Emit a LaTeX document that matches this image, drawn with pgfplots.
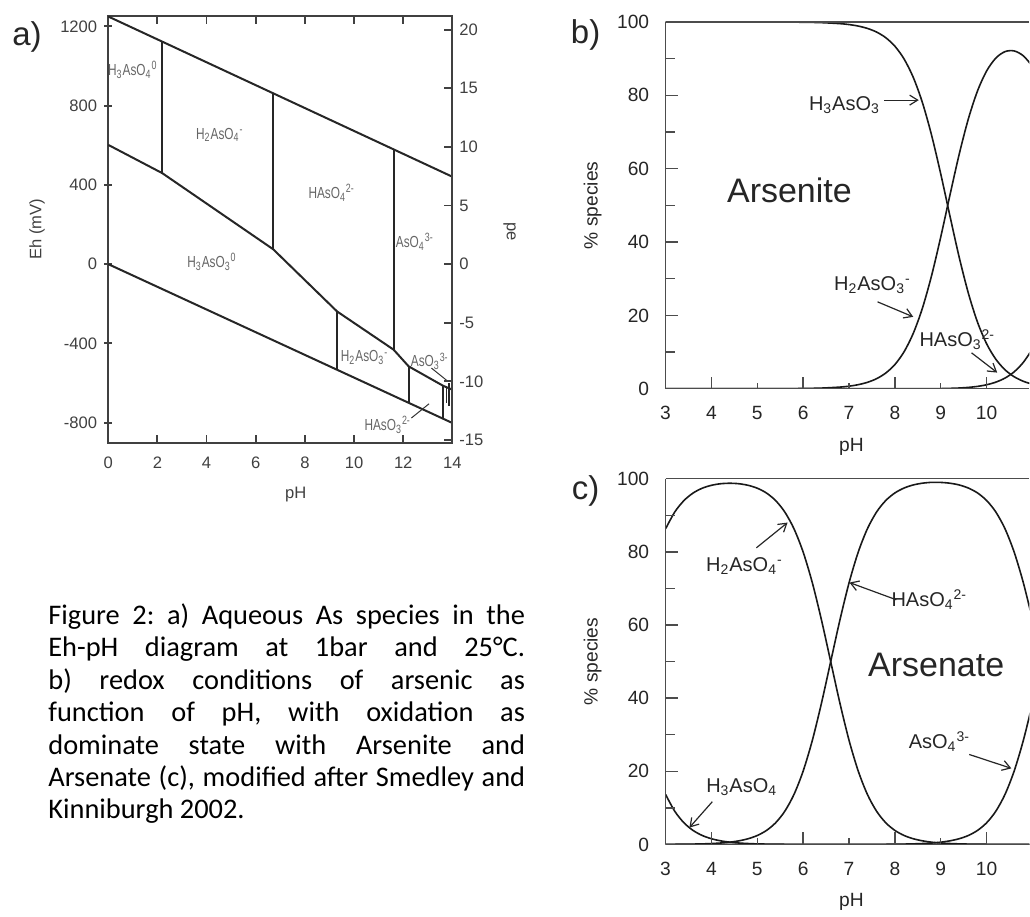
\documentclass[border=0pt]{standalone}
\usepackage{fontspec}
\setmainfont{Liberation Sans}
\newfontfamily\calibri{Carlito}
\newfontfamily\narrowsans[FakeStretch=0.74]{Liberation Sans}
\usepackage{pgfplots}
\pgfplotsset{compat=1.18}
\usepackage{pgfplotstable}
\usetikzlibrary{arrows.meta}
\frenchspacing

\pgfplotstableread{
pH f0 f1 f2
3.0 100 0 0
4.0 100 0 0
5.0 99.99 0.01 0
5.5 99.98 0.02 0
6.0 99.93 0.07 0
6.4 99.82 0.18 0
6.8 99.55 0.45 0
7.0 99.30 0.70 0
7.2 98.89 1.11 0
7.4 98.25 1.75 0
7.6 97.26 2.74 0
7.8 95.72 4.28 0
8.0 93.39 6.61 0
8.2 89.91 10.09 0.01
8.4 84.90 15.10 0.01
8.6 78.01 21.99 0.01
8.8 69.10 30.88 0.02
9.0 58.52 41.43 0.05
9.2 47.08 52.82 0.11
9.4 35.92 63.87 0.20
9.6 26.10 73.54 0.37
9.8 18.17 81.18 0.64
10.0 12.24 86.67 1.09
10.2 8.04 90.16 1.80
10.4 5.17 91.92 2.91
10.6 3.27 92.11 4.62
10.8 2.03 90.76 7.21
11.0 1.24 87.72 11.04
11.2 0.74 82.75 16.51
}\tabB

\pgfplotstableread{
pH f0 f1 f2 f3
3.0 13.68 86.30 0.02 0
3.2 9.09 90.88 0.04 0
3.4 5.93 94.01 0.06 0
3.6 3.83 96.08 0.10 0
3.8 2.45 97.40 0.15 0
4.0 1.56 98.19 0.25 0
4.2 0.99 98.62 0.39 0
4.4 0.62 98.75 0.62 0
4.6 0.39 98.62 0.99 0
4.8 0.25 98.19 1.56 0
5.0 0.15 97.40 2.45 0
5.2 0.10 96.08 3.83 0
5.4 0.06 94.01 5.93 0
5.6 0.04 90.88 9.09 0
5.8 0.02 86.30 13.68 0
6.0 0.01 79.92 20.08 0
6.2 0.01 71.53 28.47 0
6.4 0 61.31 38.69 0
6.6 0 50.00 50.00 0
6.8 0 38.69 61.31 0
7.0 0 28.47 71.53 0
7.2 0 20.08 79.92 0
7.4 0 13.68 86.31 0.01
7.6 0 9.09 90.89 0.02
7.8 0 5.93 94.03 0.04
8.0 0 3.83 96.11 0.06
8.2 0 2.45 97.45 0.10
8.4 0 1.56 98.29 0.16
8.6 0 0.99 98.77 0.25
8.8 0 0.62 99.00 0.39
9.0 0 0.39 98.98 0.62
9.2 0 0.25 98.76 0.99
9.4 0 0.16 98.29 1.56
9.6 0 0.10 97.45 2.45
9.8 0 0.06 96.11 3.83
10.0 0 0.04 94.03 5.93
10.2 0 0.02 90.89 9.09
10.4 0 0.01 86.31 13.68
10.6 0 0.01 79.91 20.08
10.8 0 0 71.53 28.47
11.0 0 0 61.31 38.69
11.2 0 0 50.00 50.00
}\tabC

\pgfplotsset{
  spec/.style={
    scale only axis, width=182pt,
    xmin=3, xmax=10.93, ymin=0, ymax=100,
    axis on top,
    axis x line*=box, axis y line*=left,
    xtick={4,6,8,10}, extra x ticks={3,5,7,9},
    extra x tick style={major tick length=3pt},
    ytick={0,20,...,100}, minor ytick={10,30,...,90},
    tick pos=left, tick align=inside,
    major tick length=6pt, minor tick length=4.5pt,
    axis line style={black!70, line width=0.7pt},
    tick style={black!70, line width=0.7pt},
    tick label style={font=\fontsize{9.6}{11}\selectfont, text=black!85},
    xticklabel style={yshift=-5.2pt},
    yticklabel style={xshift=-4.7pt},
    /pgf/number format/assume math mode=true,
    clip=true,
  },
  curve/.style={black!90, line width=0.8pt, smooth},
}
\tikzset{
  arr/.style={black!85, line width=0.6pt, -{Straight Barb[length=4pt,width=5pt]}},
  slab/.style={font=\fontsize{10}{12}\selectfont, text=black!85, inner sep=0pt},
  alab/.style={font=\narrowsans\fontsize{8}{9}\selectfont, text=black!60, inner sep=0pt},
  bnd/.style={black!85, line width=1pt},
}

\begin{document}
\begin{tikzpicture}
\path (0,0) rectangle (515pt,-456pt);

% ---------------- panel a ----------------
\begin{axis}[
  at={(54.15pt,-221.65pt)}, anchor=south west, scale only axis,
  width=172.2pt, height=213.8pt,
  xmin=0, xmax=14, ymin=-903, ymax=1254,
  xtick={0,2,...,14}, ytick={-800,-400,...,1200},
  xtick pos=both, ytick pos=left, xtick align=inside, ytick align=center,
  major tick length=4pt,
  axis line style={black!75, line width=1pt},
  tick style={black!75, line width=0.9pt},
  tick label style={font=\fontsize{8.3}{10}\selectfont, text=black!75},
  xticklabel style={yshift=-3.5pt},
  /pgf/number format/assume math mode=true,
  /pgf/number format/1000 sep={},
  scaled ticks=false,
]
\addplot[bnd] coordinates {(0,1250) (14,441)};
\addplot[bnd] coordinates {(0,0) (14,-802)};
\addplot[bnd] coordinates {(0,602) (2.2,459) (6.71,75) (9.31,-239) (11.61,-432) (12.22,-516) (13.62,-614) (14,-634)};
\addplot[bnd] coordinates {(2.2,1123) (2.2,459)};
\addplot[bnd] coordinates {(6.71,862) (6.71,75)};
\addplot[bnd] coordinates {(11.61,579) (11.61,-432)};
\addplot[bnd] coordinates {(9.31,-239) (9.31,-533)};
\addplot[bnd] coordinates {(12.22,-516) (12.22,-698)};
\addplot[bnd] coordinates {(13.62,-614) (13.62,-777)};
\addplot[black!85, line width=0.8pt] coordinates {(13.76,-624) (13.76,-700)};
\addplot[black!85, line width=0.8pt] coordinates {(13.87,-600) (13.87,-715)};
\node[alab] at (axis cs:1.0,980) {H\textsubscript{3}AsO\textsubscript{4}\textsuperscript{0}};
\node[alab] at (axis cs:4.54,652) {H\textsubscript{2}AsO\textsubscript{4}\textsuperscript{-}};
\node[alab] at (axis cs:9.09,360) {HAsO\textsubscript{4}\textsuperscript{2-}};
\node[alab] at (axis cs:12.47,112) {AsO\textsubscript{4}\textsuperscript{3-}};
\node[alab] at (axis cs:4.22,12) {H\textsubscript{3}AsO\textsubscript{3}\textsuperscript{0}};
\node[alab] at (axis cs:10.43,-473) {H\textsubscript{2}AsO\textsubscript{3}\textsuperscript{-}};
\node[alab] at (axis cs:13.08,-491) {AsO\textsubscript{3}\textsuperscript{3-}};
\draw[black!80, line width=0.5pt] (axis cs:13.15,-525) -- (axis cs:13.82,-592);
\node[alab] at (axis cs:11.37,-811) {HAsO\textsubscript{3}\textsuperscript{2-}};
\draw[black!80, line width=0.5pt] (axis cs:12.33,-777) -- (axis cs:13.05,-705);
\end{axis}

% pe axis
\begin{axis}[
  at={(54.15pt,-221.65pt)}, anchor=south west, scale only axis,
  width=172.2pt, height=213.8pt,
  xmin=0, xmax=14, ymin=-15.264, ymax=21.197,
  hide x axis, axis y line*=right,
  ytick={-15,-10,...,20}, ytick align=inside,
  major tick length=4pt,
  axis line style={black!75, line width=1pt},
  tick style={black!75, line width=0.9pt},
  tick label style={font=\fontsize{8.3}{10}\selectfont, text=black!75},
  /pgf/number format/assume math mode=true,
]
\addplot[draw=none] coordinates {(0,0)};
\end{axis}

\node[font=\fontsize{8.3}{10}\selectfont, text=black!75, rotate=90] at (18.5pt,-114.75pt) {Eh (mV)};
\node[font=\fontsize{8.3}{10}\selectfont, text=black!75, rotate=-90] at (255pt,-116pt) {pe};
\node[font=\fontsize{8.3}{10}\selectfont, text=black!75] at (148pt,-247.5pt) {pH};
\node[font=\fontsize{16.5}{18}\selectfont, text=black!85] at (13.5pt,-18.5pt) {a)};

% ---------------- panel b ----------------
\begin{axis}[spec, at={(333pt,-194.5pt)}, anchor=south west, height=183.5pt]
\addplot[curve] table[x=pH,y=f0]{\tabB};
\addplot[curve] table[x=pH,y=f1]{\tabB};
\addplot[curve] table[x=pH,y=f2]{\tabB};
\node[font=\fontsize{17}{20}\selectfont, text=black!85] at (axis cs:5.70,54.2) {Arsenite};
\node[slab] at (axis cs:6.90,77.4) {H\textsubscript{3}AsO\textsubscript{3}};
\draw[arr] (axis cs:7.77,78.7) -- (axis cs:8.52,78.7);
\node[slab] at (axis cs:7.51,28.3) {H\textsubscript{2}AsO\textsubscript{3}\textsuperscript{-}};
\draw[arr] (axis cs:7.62,23.7) -- (axis cs:8.40,19.6);
\node[slab] at (axis cs:9.36,13.4) {HAsO\textsubscript{3}\textsuperscript{2-}};
\draw[arr] (axis cs:9.67,9.8) -- (axis cs:10.23,4.4);
\end{axis}
\node[font=\fontsize{9.6}{11}\selectfont, text=black!85, rotate=90] at (296.5pt,-102.75pt) {\% species};
\node[font=\fontsize{9.6}{11}\selectfont, text=black!85] at (426pt,-223.5pt) {pH};
\node[font=\fontsize{16.5}{18}\selectfont, text=black!85] at (293pt,-17.5pt) {b)};

% ---------------- panel c ----------------
\begin{axis}[spec, at={(333pt,-422.5pt)}, anchor=south west, height=183pt]
\addplot[curve] table[x=pH,y=f0]{\tabC};
\addplot[curve] table[x=pH,y=f1]{\tabC};
\addplot[curve] table[x=pH,y=f2]{\tabC};
\addplot[curve] table[x=pH,y=f3]{\tabC};
\node[font=\fontsize{17}{20}\selectfont, text=black!85] at (axis cs:8.90,49.2) {Arsenate};
\node[slab] at (axis cs:4.72,76.0) {H\textsubscript{2}AsO\textsubscript{4}\textsuperscript{-}};
\draw[arr] (axis cs:4.98,81.1) -- (axis cs:5.66,88.0);
\node[slab] at (axis cs:8.75,66.9) {HAsO\textsubscript{4}\textsuperscript{2-}};
\draw[arr] (axis cs:8.03,66.9) -- (axis cs:7.01,71.6);
\node[slab] at (axis cs:8.97,28.1) {AsO\textsubscript{4}\textsuperscript{3-}};
\draw[arr] (axis cs:9.62,24.6) -- (axis cs:10.54,20.8);
\node[slab] at (axis cs:4.66,15.8) {H\textsubscript{3}AsO\textsubscript{4}};
\draw[arr] (axis cs:4.02,11.7) -- (axis cs:3.52,4.6);
\end{axis}
\node[font=\fontsize{9.6}{11}\selectfont, text=black!85, rotate=90] at (296.5pt,-331pt) {\% species};
\node[font=\fontsize{9.6}{11}\selectfont, text=black!85] at (426pt,-451pt) {pH};
\node[font=\fontsize{16.5}{18}\selectfont, text=black!85] at (293pt,-245.5pt) {c)};

% ---------------- caption ----------------
\node[anchor=base west, inner sep=0pt] at (24pt,-312.5pt) {\parbox[t]{238.5pt}{\calibri\fontsize{14.2}{16.2}\selectfont
\makebox[\linewidth][s]{Figure 2: a) Aqueous As species in the}\par
\makebox[\linewidth][s]{Eh-pH diagram at 1bar and 25°C.}\par
\makebox[\linewidth][s]{b) redox conditions of arsenic as}\par
\makebox[\linewidth][s]{function of pH, with oxidation as}\par
\makebox[\linewidth][s]{dominate state with Arsenite and}\par
\makebox[\linewidth][s]{Arsenate (c), modified after Smedley and}\par
Kinniburgh 2002.}};
\end{tikzpicture}
\end{document}
